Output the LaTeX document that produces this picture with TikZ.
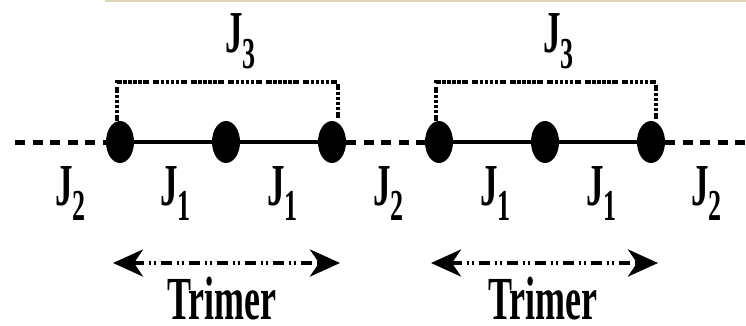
\documentclass[tikz,border=0pt]{standalone}
\usepackage{fontspec}
\setmainfont{Liberation Serif}
\usetikzlibrary{shapes.geometric,arrows.meta}
\definecolor{rulebeige}{RGB}{222,214,180}
\newcommand{\cpl}[1]{\scalebox{1}[1.7]{J\raisebox{-9pt}{\fontsize{26}{26}\selectfont #1}}}
\newcommand{\tall}[1]{\scalebox{1}[1.7]{#1}}

\begin{document}
\begin{tikzpicture}[x=1pt,y=-1pt]
        \tikzstyle{spin}=[ellipse,fill=black,minimum width=28pt,minimum height=42pt,inner sep=0pt]
        \tikzstyle{bond}=[draw,line width=4.5pt]
        \tikzstyle{weak}=[draw,line width=5pt,dash pattern=on 10pt off 7.5pt]
        \tikzstyle{third}=[draw,line width=3.5pt,dash pattern=on 6pt off 1.5pt on 3.5pt off 1.5pt on 3.5pt off 1.5pt on 3.5pt off 1.5pt on 3.5pt off 1.5pt on 6pt off 4pt]
        \tikzstyle{span}=[draw,line width=4pt,dash pattern=on 11pt off 5pt on 2pt off 3pt on 2pt off 5pt,{Stealth[length=30pt,width=27pt,inset=9pt]}-{Stealth[length=30pt,width=27pt,inset=9pt]}]
        \tikzstyle{coupling}=[font=\fontsize{35}{35}\selectfont\bfseries,inner sep=0pt,anchor=base west]
        \tikzstyle{caption}=[font=\fontsize{36}{36}\selectfont\bfseries,inner sep=0pt,anchor=base]
       \useasboundingbox (0,0) rectangle (746,326);
       \draw[rulebeige,line width=2pt] (105,1) -- (746,1);
       \begin{scope}
         \coordinate (w) at (15,142);
         \coordinate (e) at (746,142);
         \node [spin] (a1) at (120,142) {};
         \node [spin] (a2) at (226,142) {};
         \node [spin] (a3) at (332,142) {};
         \node [spin] (b1) at (439,142) {};
         \node [spin] (b2) at (545,142) {};
         \node [spin] (b3) at (651,142) {};

         \path[weak] (w) -- (a1);
         \path[bond] (a1) -- (a2) -- (a3);
         \path[weak] (a3) -- (b1);
         \path[bond] (b1) -- (b2) -- (b3);
         \path[weak] (b3) -- (e);

         \path[third] ([xshift=-3pt]a1.north) -- ++(0,-39) -| ([xshift=6pt]a3.north);
         \path[third] ([xshift=-3pt]b1.north) -- ++(0,-39) -| ([xshift=5pt]b3.north);
         \node [coupling] (j3a) at (225,53) {\cpl{3}};
         \node [coupling] (j3b) at (543,53) {\cpl{3}};

         \node [coupling] (j2w) at (55,205) {\cpl{2}};
         \node [coupling] (j1a) at (160,205) {\cpl{1}};
         \node [coupling] (j1b) at (267,205) {\cpl{1}};
         \node [coupling] (j2m) at (373,205) {\cpl{2}};
         \node [coupling] (j1c) at (480,205) {\cpl{1}};
         \node [coupling] (j1d) at (586,205) {\cpl{1}};
         \node [coupling] (j2e) at (691,205) {\cpl{2}};

         \coordinate (ta1) at (113,263);
         \coordinate (ta2) at (340,263);
         \coordinate (tb1) at (431,263);
         \coordinate (tb2) at (658,263);
         \path[span] (ta1) -- (ta2);
         \path[span] (tb1) -- (tb2);
         \node [caption] (tria) at (222,319) {\tall{Trimer}};
         \node [caption] (trib) at (543,319) {\tall{Trimer}};
        \end{scope}
      \end{tikzpicture}
\end{document}
